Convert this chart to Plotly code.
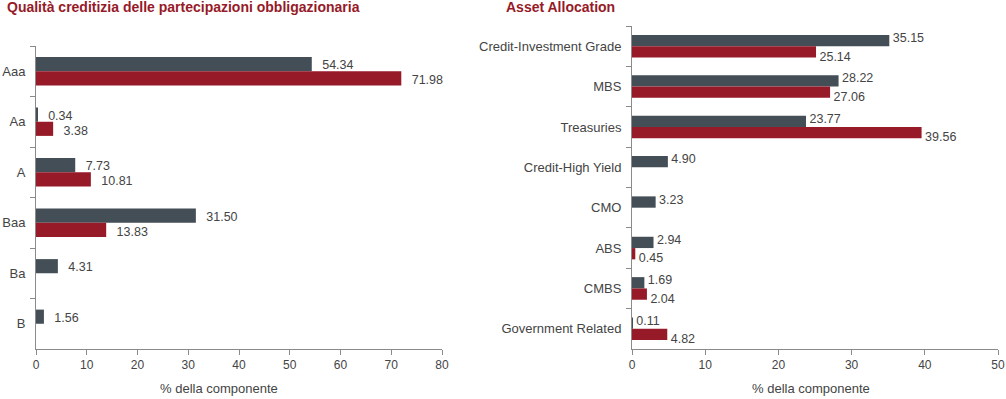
import plotly.graph_objects as go

# Left chart data
rating_cats = ["Aaa", "Aa", "A", "Baa", "Ba", "B"]
rating_fund = [54.34, 0.34, 7.73, 31.50, 4.31, 1.56]
rating_index = [71.98, 3.38, 10.81, 13.83, None, None]

# Right chart data
alloc_cats = ["Credit-Investment Grade", "MBS", "Treasuries", "Credit-High Yield",
              "CMO", "ABS", "CMBS", "Government Related"]
alloc_fund = [35.15, 28.22, 23.77, 4.90, 3.23, 2.94, 1.69, 0.11]
alloc_index = [25.14, 27.06, 39.56, None, None, 0.45, 2.04, 4.82]

left_ticks = [0, 10, 20, 30, 40, 50, 60, 70, 80]
right_ticks = [0, 10, 20, 30, 40, 50]

GRAY = "#434e56"
RED = "#961a28"
TXT = "#444444"
AX = "#8a8a8a"
FONT = "Liberation Sans, Arial, sans-serif"

W, H = 1006, 399
BARGAP = 0.44
HALF = (1 - BARGAP) / 4  # centre offset of each bar within its group

def fx(px):
    return px / W

def fy(py):
    return (H - py) / H

fig = go.Figure()

def add_pair(cats, a, b, xa, ya, ya_txt, pad, spread, shift):
    for k, (vals, col) in enumerate(((a, GRAY), (b, RED))):
        fig.add_trace(go.Bar(
            y=cats, x=vals, orientation="h", marker_color=col,
            marker_line_width=0, xaxis=xa, yaxis=ya, showlegend=False,
            hoverinfo="skip",
        ))
        sign = -1 if k == 0 else 1
        xs, ys, ts = [], [], []
        for i, v in enumerate(vals):
            if v is None:
                continue
            xs.append(v)
            ys.append(i + sign * (HALF + spread) + shift)
            ts.append(pad + "%.2f" % v)
        fig.add_trace(go.Scatter(
            x=xs, y=ys, text=ts, mode="text", textposition="middle right",
            textfont=dict(family=FONT, size=12.5, color=TXT),
            cliponaxis=False, xaxis=xa, yaxis=ya_txt, showlegend=False,
            hoverinfo="skip",
        ))

add_pair(rating_cats, rating_fund, rating_index, "x", "y", "y3",
         "\u00a0\u00a0\u00a0", 0.01, 0.05)
add_pair(alloc_cats, alloc_fund, alloc_index, "x2", "y2", "y4",
         "\u00a0", 0.09, 0.05)

common_x = dict(showgrid=False, zeroline=False, showline=True, linecolor=AX,
                linewidth=1, ticks="outside", ticklen=5, tickcolor=AX,
                tickfont=dict(family=FONT, size=12, color=TXT), automargin=False)
common_y = dict(showgrid=False, zeroline=False, showline=True, linecolor=AX,
                linewidth=1, ticks="outside", ticklen=5, tickcolor=AX,
                tickson="boundaries", autorange="reversed", type="category",
                ticklabelstandoff=7,
                tickfont=dict(family=FONT, size=13, color=TXT), automargin=False)
hidden_y = dict(visible=False, showgrid=False, zeroline=False, automargin=False)

dom_left = [fy(349), fy(46)]
dom_right = [fy(349), fy(26)]

fig.update_layout(
    width=W, height=H,
    margin=dict(l=0, r=0, t=0, b=0),
    paper_bgcolor="white", plot_bgcolor="white",
    barmode="group", bargap=BARGAP, bargroupgap=0,
    font=dict(family=FONT, size=12, color=TXT),
    xaxis=dict(domain=[fx(36), fx(442)], range=[0, 80], tickvals=left_ticks,
               anchor="y", **common_x),
    yaxis=dict(domain=dom_left, anchor="x",
               categoryarray=rating_cats, categoryorder="array", **common_y),
    xaxis2=dict(domain=[fx(632), fx(998)], range=[0, 50], tickvals=right_ticks,
                anchor="y2", **common_x),
    yaxis2=dict(domain=dom_right, anchor="x2",
                categoryarray=alloc_cats, categoryorder="array", **common_y),
    yaxis3=dict(domain=dom_left, anchor="x", overlaying="y",
                range=[len(rating_cats) - 0.5, -0.5], **hidden_y),
    yaxis4=dict(domain=dom_right, anchor="x2", overlaying="y2",
                range=[len(alloc_cats) - 0.5, -0.5], **hidden_y),
    annotations=[
        dict(text="<b>Qualità creditizia delle partecipazioni obbligazionaria</b>",
             x=fx(5), y=fy(7), xref="paper", yref="paper", xanchor="left",
             yanchor="middle", showarrow=False,
             font=dict(family=FONT, size=14, color=RED)),
        dict(text="<b>Asset Allocation</b>",
             x=fx(504), y=fy(7), xref="paper", yref="paper", xanchor="left",
             yanchor="middle", showarrow=False,
             font=dict(family=FONT, size=14, color=RED)),
        dict(text="% della componente", x=fx(219), y=fy(388), xref="paper",
             yref="paper", xanchor="center", yanchor="middle", showarrow=False,
             font=dict(family=FONT, size=13, color=TXT)),
        dict(text="% della componente", x=fx(811), y=fy(388), xref="paper",
             yref="paper", xanchor="center", yanchor="middle", showarrow=False,
             font=dict(family=FONT, size=13, color=TXT)),
    ],
)

fig.write_html("out.html", config={"displayModeBar": False},
               post_script="document.body.style.margin='0';document.body.style.overflow='hidden';")
